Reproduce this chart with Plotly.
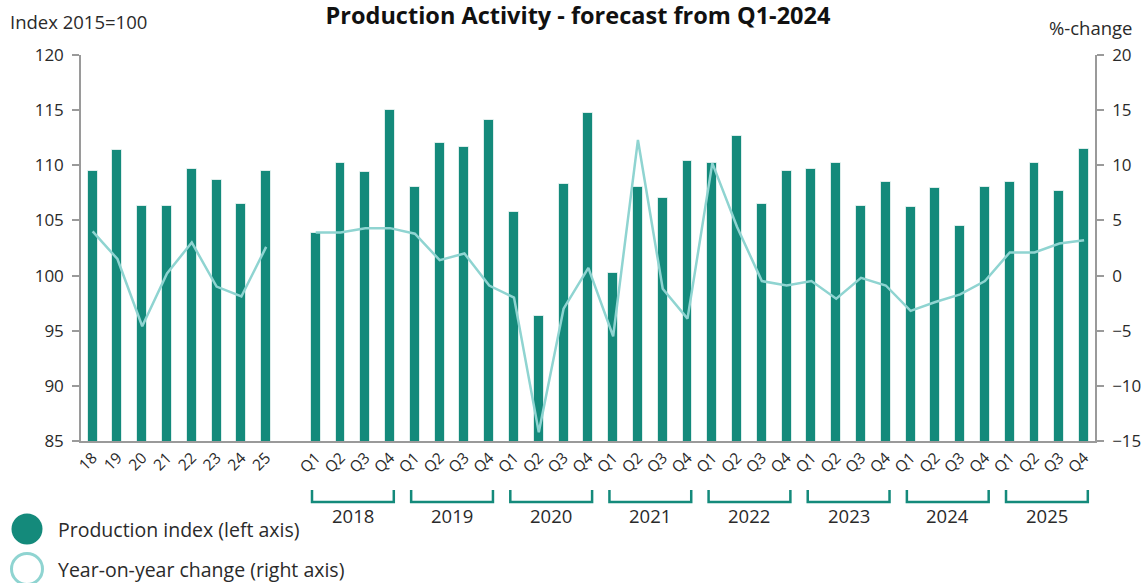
import plotly.graph_objects as go

# ---------------- data ----------------
annual_labels = ["18", "19", "20", "21", "22", "23", "24", "25"]
annual_index = [109.5, 111.4, 106.3, 106.3, 109.7, 108.7, 106.5, 109.5]
annual_yoy = [4.0, 1.5, -4.6, 0.2, 3.0, -1.0, -1.9, 2.6]

years = ["2018", "2019", "2020", "2021", "2022", "2023", "2024", "2025"]
quarter_labels = ["Q1", "Q2", "Q3", "Q4"]
quarter_index = [
    103.9, 110.2, 109.4, 115.0,
    108.0, 112.0, 111.7, 114.1,
    105.8, 96.3, 108.3, 114.7,
    100.2, 108.0, 107.0, 110.4,
    110.2, 112.7, 106.5, 109.5,
    109.7, 110.2, 106.3, 108.5,
    106.2, 107.9, 104.5, 108.0,
    108.5, 110.2, 107.7, 111.5,
]
quarter_yoy = [
    3.9, 3.9, 4.3, 4.3,
    3.8, 1.4, 2.0, -0.9,
    -2.0, -14.2, -3.0, 0.7,
    -5.5, 12.3, -1.2, -3.9,
    10.2, 4.4, -0.5, -0.9,
    -0.5, -2.1, -0.2, -0.9,
    -3.2, -2.4, -1.7, -0.5,
    2.1, 2.1, 2.9, 3.2,
]

# ---------------- positions ----------------
n_a = len(annual_labels)
gap = 1
x_annual = list(range(n_a))
q_start = n_a + gap
q_labels_all = [q for _ in years for q in quarter_labels]
x_quarter = list(range(q_start, q_start + len(q_labels_all)))

BAR = "#148A7B"
LINE = "#8FD4D1"
TXT = "#2a2a2a"
AX = "#9a9a9a"
FONT = "Open Sans"

W, H = 1146, 583
ML, MR, MT, MB = 81, 51, 55, 142
PW, PH = W - ML - MR, H - MT - MB


def px2x(px):
    return (px - ML) / PW


def px2y(py):
    return (MT + PH - py) / PH


fig = go.Figure()

fig.add_trace(go.Bar(
    x=x_annual + x_quarter,
    y=annual_index + quarter_index,
    width=0.4,
    marker=dict(color=BAR, line=dict(color="rgba(255,255,255,0.7)", width=1)),
    name="Production index (left axis)",
    showlegend=False,
    yaxis="y",
))
fig.add_trace(go.Scatter(
    x=x_annual, y=annual_yoy, mode="lines",
    line=dict(color=LINE, width=2.5),
    name="Year-on-year change (right axis)",
    showlegend=False, yaxis="y2",
))
fig.add_trace(go.Scatter(
    x=x_quarter, y=quarter_yoy, mode="lines",
    line=dict(color=LINE, width=2.5),
    name="Year-on-year change (right axis)",
    showlegend=False, yaxis="y2",
))

shapes = []
annotations = []

# year brackets
by0, by1 = px2y(490), px2y(502)
for i, yr in enumerate(years):
    xa = x_quarter[i * 4] - 0.15
    xb = x_quarter[i * 4 + 3] + 0.15
    shapes.append(dict(
        type="path", xref="x", yref="paper",
        path=f"M {xa},{by0} L {xa},{by1} L {xb},{by1} L {xb},{by0}",
        line=dict(color=BAR, width=2.5),
    ))
    annotations.append(dict(
        x=(x_quarter[i * 4] + x_quarter[i * 4 + 3]) / 2, y=px2y(515),
        xref="x", yref="paper", text=yr, showarrow=False,
        font=dict(family=FONT, size=18.5, color=TXT),
        xanchor="center", yanchor="middle",
    ))

# axis titles
annotations.append(dict(
    x=px2x(8), y=px2y(22), xref="paper", yref="paper",
    text="Index 2015=100", showarrow=False, xanchor="left", yanchor="middle",
    font=dict(family=FONT, size=18.5, color=TXT),
))
annotations.append(dict(
    x=px2x(1135), y=px2y(28), xref="paper", yref="paper",
    text="%-change", showarrow=False, xanchor="right", yanchor="middle",
    font=dict(family=FONT, size=18.5, color=TXT),
))

# manual legend
r = 15.5
for cy, filled, label in [(529, True, "Production index (left axis)"),
                          (569, False, "Year-on-year change (right axis)")]:
    shapes.append(dict(
        type="circle", xref="paper", yref="paper",
        x0=px2x(27 - r), x1=px2x(27 + r), y0=px2y(cy + r), y1=px2y(cy - r),
        fillcolor=BAR if filled else "rgba(0,0,0,0)",
        line=dict(color=BAR if filled else LINE, width=0 if filled else 3),
    ))
    annotations.append(dict(
        x=px2x(56), y=px2y(cy), xref="paper", yref="paper",
        text=label, showarrow=False, xanchor="left", yanchor="middle",
        font=dict(family=FONT, size=19.5, color=TXT),
    ))

fig.update_layout(
    width=W, height=H,
    margin=dict(l=ML, r=MR, t=MT, b=MB, autoexpand=False),
    paper_bgcolor="white", plot_bgcolor="white",
    title=dict(
        text="<b>Production Activity - forecast from Q1-2024</b>",
        x=578 / W, xref="container", xanchor="center",
        y=1 - 16 / H, yref="container", yanchor="middle",
        font=dict(family=FONT, size=23.5, color="#111"),
    ),
    xaxis=dict(
        range=[-0.47, 40.44],
        tickmode="array", tickvals=x_annual + x_quarter,
        ticktext=annual_labels + q_labels_all,
        tickangle=-45, ticks="",
        tickfont=dict(family=FONT, size=15.5, color=TXT),
        showline=True, linecolor=AX, linewidth=1.5,
        showgrid=False, zeroline=False,
    ),
    yaxis=dict(
        range=[85, 120], dtick=5, tick0=85,
        ticks="outside", ticklen=7, tickcolor=AX, tickwidth=1.5,
        ticklabelstandoff=5,
        showline=True, linecolor=AX, linewidth=1.5,
        showgrid=False, zeroline=False,
        tickfont=dict(family=FONT, size=17, color=TXT),
    ),
    yaxis2=dict(
        range=[-15, 20], dtick=5, tick0=-15,
        overlaying="y", side="right",
        ticks="outside", ticklen=7, tickcolor=AX, tickwidth=1.5,
        ticklabelstandoff=5,
        showline=True, linecolor=AX, linewidth=1.5,
        showgrid=False, zeroline=False,
        tickfont=dict(family=FONT, size=17, color=TXT),
    ),
    shapes=shapes,
    annotations=annotations,
    bargap=0,
)

fig.write_html("out.html")
